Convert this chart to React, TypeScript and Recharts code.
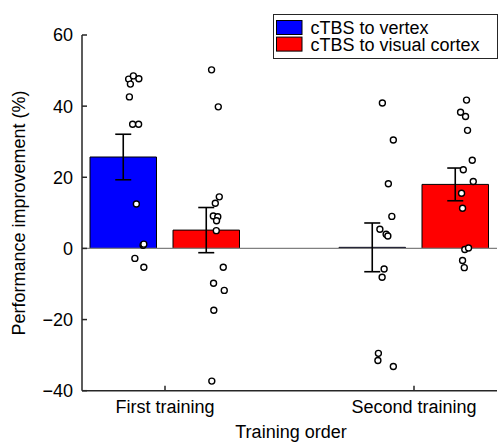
import React from 'react';
import {
  ComposedChart,
  Bar,
  Cell,
  ErrorBar,
  Scatter,
  XAxis,
  YAxis,
  ReferenceLine,
  Legend,
  Label,
} from 'recharts';

const categories = ['First training', 'Second training'];
const conditions = ['cTBS to vertex', 'cTBS to visual cortex'];
const conditionColors = ['#0000ff', '#ff0000'];
const yTicks = [-40, -20, 0, 20, 40, 60];
const xLabel = 'Training order';
const yLabel = 'Performance improvement (%)';

// Bar slots (a blank slot separates the two training groups)
const barSlots = ['first-vertex', 'first-visual', 'gap', 'second-vertex', 'second-visual'];
const barMeans = [25.7, 5.15, null, 0.3, 18.0];
const barSems = [6.4, 6.35, null, 6.85, 4.6];
const barCondition = [0, 1, -1, 0, 1];

// Individual subjects (jittered x position on the training axis, value)
const vertexFirstX = [0.854, 0.873, 0.895, 0.861, 0.857, 0.87, 0.894, 0.885, 0.912, 0.915, 0.879, 0.915];
const vertexFirstY = [47.6, 48.5, 47.7, 46.2, 42.6, 34.9, 34.9, 12.5, 0.9, 1.2, -2.8, -5.3];

const visualFirstX = [1.187, 1.214, 1.218, 1.202, 1.194, 1.212, 1.207, 1.206, 1.234, 1.195, 1.238, 1.196, 1.188];
const visualFirstY = [50.2, 39.8, 14.5, 12.7, 9.1, 8.9, 7.8, 5.0, -5.3, -9.8, -11.8, -17.4, -37.3];

const vertexSecondX = [1.873, 1.917, 1.897, 1.911, 1.863, 1.888, 1.895, 1.88, 1.872, 1.857, 1.855, 1.917];
const vertexSecondY = [40.9, 30.5, 18.2, 9.0, 5.4, 4.0, 3.5, -5.8, -8.1, -29.5, -31.5, -33.2];

const visualSecondX = [2.211, 2.187, 2.207, 2.215, 2.234, 2.198, 2.238, 2.191, 2.195, 2.204, 2.219, 2.195, 2.202];
const visualSecondY = [41.7, 38.3, 37.1, 33.2, 24.8, 22.1, 18.8, 15.5, 11.3, -0.3, 0.1, -3.4, -5.4];

const barData = barSlots.map((slot, i) => ({
  slot,
  mean: barMeans[i],
  sem: barSems[i],
  cond: barCondition[i],
}));

const groups: [number[], number[]][] = [
  [vertexFirstX, vertexFirstY],
  [visualFirstX, visualFirstY],
  [vertexSecondX, vertexSecondY],
  [visualSecondX, visualSecondY],
];
const dotData = groups.flatMap(([xs, ys]) => xs.map((x, i) => ({ x, y: ys[i] })));

const FONT = '"Liberation Sans", Arial, Helvetica, sans-serif';
const AXIS_COLOR = '#262626';

const renderDot = (props: any) => {
  const { cx, cy } = props;
  if (cx == null || cy == null) return <g />;
  return <circle cx={cx} cy={cy} r={3} fill="#ffffff" stroke="#000000" strokeWidth={1.4} />;
};

const renderLegend = () => (
  <svg width={225} height={45} style={{ display: 'block', overflow: 'visible' }}>
    <rect x={0.5} y={0.5} width={224} height={44} fill="#ffffff" stroke={AXIS_COLOR} strokeWidth={1} />
    {conditions.map((name, i) => (
      <g key={name}>
        <rect
          x={3.5}
          y={6.5 + i * 16.6}
          width={25.5}
          height={14}
          fill={conditionColors[i]}
          stroke="#000"
          strokeWidth={1}
        />
        <text x={37.5} y={20 + i * 16.6} fontSize={18} fontFamily={FONT} fill="#000">
          {name}
        </text>
      </g>
    ))}
  </svg>
);

const minus = (v: number) => String(v).replace('-', '\u2212');

export default function App() {
  return (
    <div style={{ position: 'absolute', left: 0, top: 0, width: 498, height: 444, background: '#fff' }}>
      <ComposedChart
        width={498}
        height={444}
        data={barData}
        margin={{ top: 35, right: 1, bottom: 0, left: 0 }}
        style={{ fontFamily: FONT }}
      >
        <XAxis
          xAxisId="num"
          type="number"
          dataKey="x"
          domain={[2 / 3, 7 / 3]}
          ticks={[1, 2]}
          allowDataOverflow
          tickFormatter={(v: number) => categories[Math.round(v) - 1]}
          height={53.3}
          tickSize={-5}
          tickMargin={14.3}
          stroke={AXIS_COLOR}
          strokeWidth={1.5}
          tick={{ fontSize: 18, fill: '#000', fontFamily: FONT }}
        >
          <Label
            content={() => (
              <text x={291} y={438} textAnchor="middle" fontSize={18} fontFamily={FONT} fill="#000">
                {xLabel}
              </text>
            )}
          />
        </XAxis>
        <XAxis
          xAxisId="bars"
          type="category"
          dataKey="slot"
          hide
          height={0}
          padding={{ left: 0, right: 0 }}
        />
        <YAxis
          type="number"
          domain={[-40, 60]}
          ticks={yTicks}
          allowDataOverflow
          width={82}
          tickSize={-5}
          tickMargin={14}
          tickFormatter={minus}
          stroke={AXIS_COLOR}
          strokeWidth={1.5}
          tick={{ fontSize: 18, fill: '#000', fontFamily: FONT }}
        >
          <Label
            content={() => (
              <text
                x={25}
                y={213}
                transform="rotate(-90, 25, 213)"
                textAnchor="middle"
                fontSize={18}
                fontFamily={FONT}
                fill="#000"
              >
                {yLabel}
              </text>
            )}
          />
        </YAxis>
        <ReferenceLine y={0} xAxisId="num" stroke="#808080" strokeWidth={1.2} />
        <Bar
          xAxisId="bars"
          dataKey="mean"
          barSize={66.5}
          stroke="#000"
          strokeWidth={1}
          isAnimationActive={false}
        >
          {barData.map((d, i) => (
            <Cell key={i} fill={d.cond >= 0 ? conditionColors[d.cond] : 'none'} />
          ))}
          <ErrorBar dataKey="sem" width={8} stroke="#000" strokeWidth={1.6} direction="y" />
        </Bar>
        <Scatter
          xAxisId="num"
          data={dotData}
          dataKey="y"
          shape={renderDot}
          isAnimationActive={false}
        />
        <Legend
          layout="vertical"
          verticalAlign="middle"
          align="center"
          content={renderLegend}
          wrapperStyle={{ left: 273, top: 14, width: 225, height: 45 }}
        />
      </ComposedChart>
    </div>
  );
}
